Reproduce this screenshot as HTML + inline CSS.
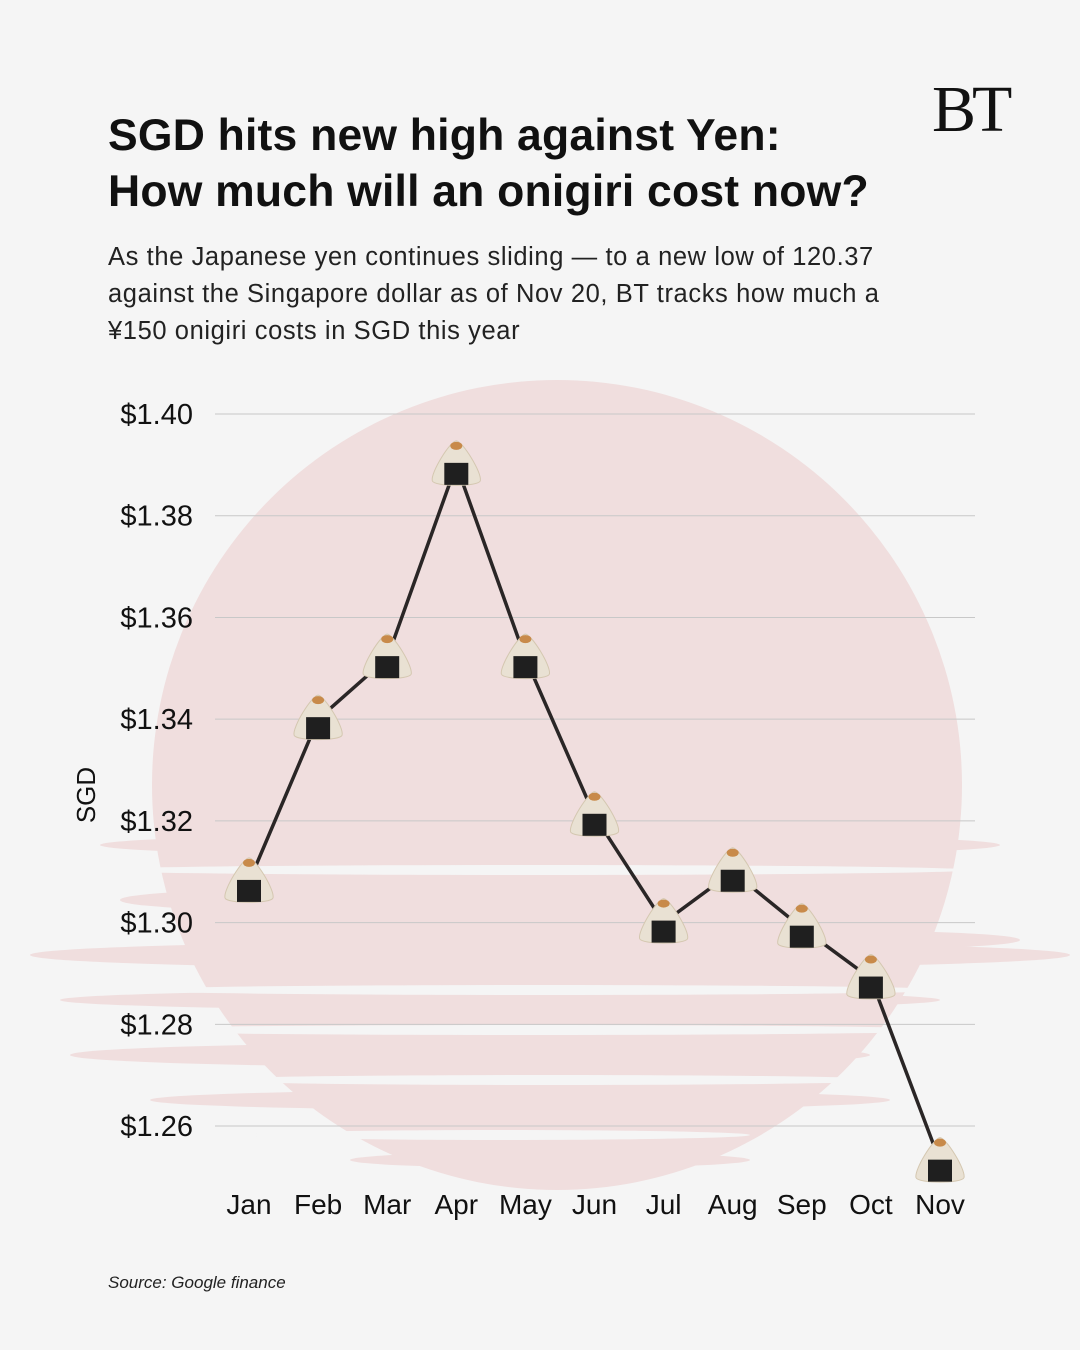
<!DOCTYPE html>
<html><head><meta charset="utf-8"><style>
body{margin:0;background:#f5f5f5;font-family:"Liberation Sans",sans-serif;}
#wrap{position:relative;width:1080px;height:1350px;overflow:hidden;background:#f5f5f5}
.t{position:absolute;color:#111}
</style></head><body>
<div id="wrap">
<div class="t" style="left:932px;top:72px;font-family:'Liberation Serif',serif;font-size:66px;letter-spacing:-4px">BT</div>
<div class="t" style="left:108px;top:108px;font-size:44.5px;font-weight:bold;line-height:56px;letter-spacing:0.2px">SGD hits new high against Yen:<br>How much will an onigiri cost now?</div>
<div class="t" style="left:108px;top:239px;font-size:25.5px;line-height:37px;color:#222;letter-spacing:0.6px">As the Japanese yen continues sliding — to a new low of 120.37<br>against the Singapore dollar as of Nov 20, BT tracks how much a<br>¥150 onigiri costs in SGD this year</div>
<svg id="chart" width="1080" height="1350" style="position:absolute;left:0;top:0"></svg>
<div class="t" style="left:108px;top:1273px;font-size:17px;font-style:italic;color:#222">Source: Google finance</div>
</div>
<script>
const months=["Jan","Feb","Mar","Apr","May","Jun","Jul","Aug","Sep","Oct","Nov"];
const values=[1.308,1.340,1.352,1.390,1.352,1.321,1.300,1.310,1.299,1.289,1.253];
const ticks=[1.40,1.38,1.36,1.34,1.32,1.30,1.28,1.26];
const NS="http://www.w3.org/2000/svg";
const svg=document.getElementById('chart');
const y=v=>414+(1.40-v)/0.01*50.86;
const x=i=>249+i*69.1;
function mk(t,a,p){const e=document.createElementNS(NS,t);for(const k in a)e.setAttribute(k,a[k]);(p||svg).appendChild(e);return e;}
const bg=mk('g',{});


mk('circle',{cx:557,cy:785,r:405,fill:'#f0dede'},bg);
[[100,845,900,12],[30,955,1040,14],[60,1000,880,10],[70,1055,800,12],[150,1100,740,10],[350,1160,400,8],[120,900,300,10],[700,940,320,9]].forEach(s=>{
 mk('ellipse',{cx:s[0]+s[2]/2,cy:s[1],rx:s[2]/2,ry:s[3],fill:'#f0dede'},bg);});
[[90,870,880],[130,990,820],[100,1030,860],[200,1080,700],[250,1135,500]].forEach(s=>{
 mk('ellipse',{cx:s[0]+s[2]/2,cy:s[1],rx:s[2]/2,ry:5,fill:'#f5f5f5'},bg);});
ticks.forEach(t=>{
 const l=mk('line',{x1:215,x2:975,y1:y(t),y2:y(t),stroke:'#c8c8c8','stroke-width':1});
 
 
 const tx=mk('text',{x:193,y:y(t)+10,'text-anchor':'end','font-size':29,fill:'#111'});
 tx.textContent='$'+t.toFixed(2);
 
 
});
const yt=mk('text',{x:0,y:0,'font-size':26,fill:'#111',transform:'translate(95,795) rotate(-90)','text-anchor':'middle'});
yt.textContent='SGD';


months.forEach((m,i)=>{
 const tx=mk('text',{x:x(i),y:1214,'text-anchor':'middle','font-size':28,fill:'#111'});
 tx.textContent=m;
 
 
});
const ln=mk('polyline',{points:values.map((v,i)=>x(i)+','+y(v)).join(' '),fill:'none',stroke:'#2a2626','stroke-width':3.5});


values.forEach((v,i)=>{
 const g=mk('g',{transform:`translate(${x(i)},${y(v)})`});
 
 
 mk('path',{d:'M0,-24 C6,-24 26,8 24,16 C22,22 -22,22 -24,16 C-26,8 -6,-24 0,-24Z',fill:'#e9e1d3',stroke:'#d4c7b0','stroke-width':1},g);
 mk('ellipse',{cx:0,cy:-19,rx:6,ry:4,fill:'#c88a4a'},g);
 mk('rect',{x:-12,y:-2,width:24,height:22,fill:'#1f1f1f'},g);
});
</script>
</body></html>
